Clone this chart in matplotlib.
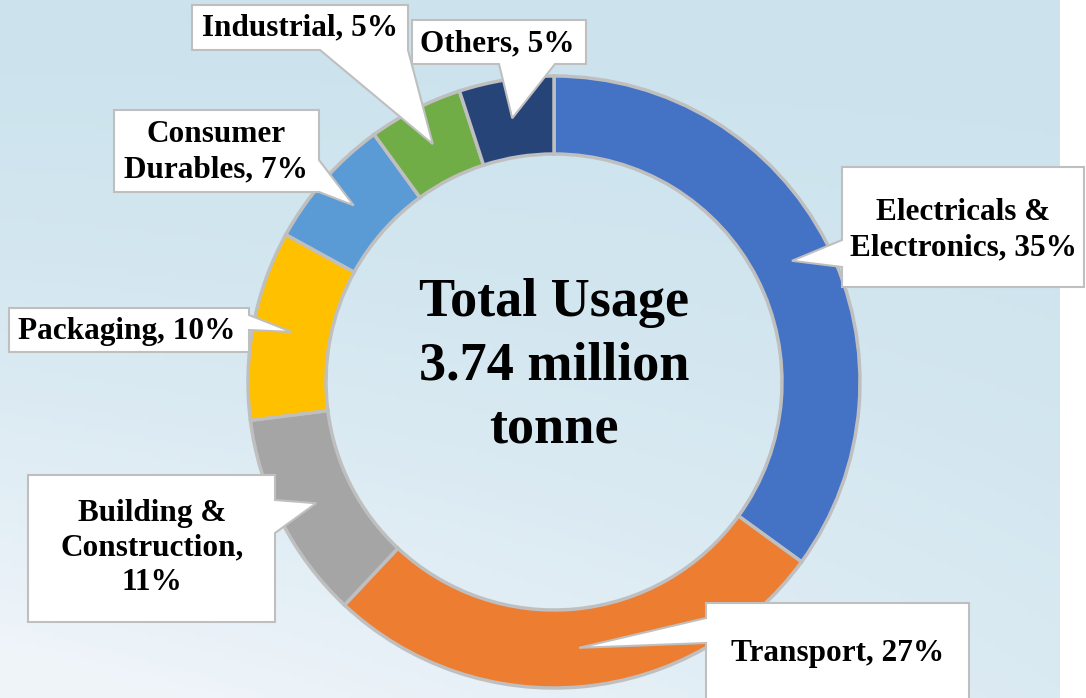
import numpy as np
import matplotlib
matplotlib.use("Agg")
import matplotlib.pyplot as plt
from matplotlib.patches import Polygon

# data
sectors = ["Electricals &\nElectronics", "Transport", "Building &\nConstruction", "Packaging",
           "Consumer\nDurables", "Industrial", "Others"]
separators = [", ", ", ", ",\n", ", ", ", ", ", ", ", "]
shares = [35, 27, 11, 10, 7, 5, 5]
colors = ["#4472C4", "#ED7D31", "#A5A5A5", "#FFC000", "#5B9BD5", "#70AD47", "#264478"]
center_text = "Total Usage\n3.74 million\ntonne"

W, H = 1086, 698
FONT = "Liberation Serif"

# callout layout in pixel coords (top-down): box, side with pointer, base span, text centre
callouts = [
    dict(box=(842, 167, 1084, 287), side="left", base=(240, 267), text=(963, 230)),
    dict(box=(706, 603, 969, 712), side="left", base=(618, 643), text=(838, 654)),
    dict(box=(28, 475, 275, 622), side="right", base=(500, 533), text=(152, 548)),
    dict(box=(9, 308, 249, 352), side="right", base=(315, 330), text=(127, 331)),
    dict(box=(114, 110, 319, 192), side="right", base=(160, 192), text=(216, 152)),
    dict(box=(192, 5, 408, 50), side="bottom", base=(320, 408), text=(300, 28)),
    dict(box=(412, 20, 586, 64), side="bottom", base=(499, 555), text=(497, 44)),
]

cx, cy, R, ring = 554, H - 382, 306, 78


def fy(y):
    return H - y


def callout_shape(box, side, base, tip):
    x0, y0, x1, y1 = box
    if side == "left":
        pts = [(x0, y0), (x1, y0), (x1, y1), (x0, y1), (x0, base[1]), tip, (x0, base[0])]
    elif side == "right":
        pts = [(x0, y0), (x1, y0), (x1, base[0]), tip, (x1, base[1]), (x1, y1), (x0, y1)]
    else:
        pts = [(x0, y0), (x1, y0), (x1, y1), (base[1], y1), tip, (base[0], y1), (x0, y1)]
    return [(x, fy(y)) for x, y in pts]


fig = plt.figure(figsize=(W / 100, H / 100), dpi=100)
ax = fig.add_axes([0, 0, 1, 1])

# soft blue background
gx, gy = np.meshgrid(np.linspace(0, 1, 200), np.linspace(0, 1, 140))
t = np.clip(gy ** 1.6 * (1.1 - 0.7 * gx), 0, 1)
top = np.array([0.80, 0.89, 0.93])
low = np.array([0.94, 0.96, 0.98])
bg = top[None, None, :] * (1 - t[..., None]) + low[None, None, :] * t[..., None]
ax.imshow(bg, extent=[0, 1060, 0, H], origin="upper", aspect="auto", zorder=0)

wedges, _ = ax.pie(shares, colors=colors, startangle=90, counterclock=False,
                   center=(cx, cy), radius=R, frame=True,
                   wedgeprops=dict(width=ring, edgecolor="#BFBFBF", linewidth=2.5))
for w in wedges:
    w.set_zorder(2)
ax.set_xlim(0, W)
ax.set_ylim(0, H)
ax.axis("off")

ax.text(cx, fy(366), center_text, ha="center", va="center", fontsize=39,
        fontweight="bold", family=FONT, linespacing=1.35, zorder=3)

rmid = R - ring / 2
for w, name, sep, val, c in zip(wedges, sectors, separators, shares, callouts):
    ang = np.deg2rad((w.theta1 + w.theta2) / 2)
    tip = (cx + rmid * np.cos(ang), H - (cy + rmid * np.sin(ang)))
    poly = Polygon(callout_shape(c["box"], c["side"], c["base"], tip), closed=True,
                   facecolor="white", edgecolor="#BFBFBF", linewidth=1.5, zorder=4)
    ax.add_patch(poly)
    ax.text(c["text"][0], fy(c["text"][1]), f"{name}{sep}{val}%", ha="center", va="center",
            fontsize=22.5, fontweight="bold", family=FONT, linespacing=1.27, zorder=5)

fig.savefig("out.png", dpi=100)
